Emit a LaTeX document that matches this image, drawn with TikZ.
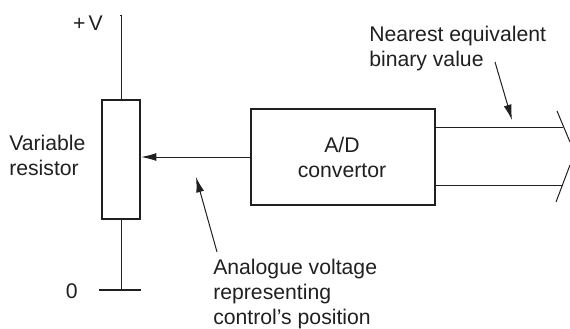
\documentclass[tikz,border=0pt]{standalone}
\usepackage{fontspec}
\setmainfont{Liberation Sans}
\usetikzlibrary{arrows.meta,calc}
\newcommand{\THINPT}{0.75pt}
\newcommand{\THICKPT}{1.7pt}
\definecolor{myink}{rgb}{0.13,0.12,0.12}
\tikzset{
	wire/.style={-,color=myink,line width=\THINPT},
	pointer/.style={-{Latex[length=11.5pt,width=6pt]},color=myink,line width=\THINPT},
	blockbox/.style={draw=myink,line width=\THICKPT,fill=white,inner sep=0pt,minimum width=#1},
	textlabel/.style={text=myink,font=\fontsize{15.9pt}{18.75pt}\selectfont,align=left,inner sep=0pt},
}
\begin{document}
\begin{tikzpicture}[x=0.75pt,y=-0.75pt]
	\useasboundingbox (0,0) rectangle (570,328);
	
		%%
		\coordinate (vtop) at (120,16);
		\coordinate (gnd) at (120,290);
		\coordinate (gndl) at (99,290);
		\coordinate (gndr) at (141,290);
		
		\coordinate (out1) at (563,127);
		\coordinate (out2) at (563,185);
		\coordinate (cut1a) at (557,111);
		\coordinate (cut1b) at (570,142);
		\coordinate (cut2a) at (556,202);
		\coordinate (cut2b) at (570,165);
		
		\coordinate (bintail) at (495,62);
		\coordinate (binhead) at (512,120);
		\coordinate (antail) at (217,252);
		\coordinate (anhead) at (196,177);
		
		\node[blockbox=38*0.75pt,minimum height=119*0.75pt] (res) at (121,159.5) {};
		\node[blockbox=184*0.75pt,minimum height=96*0.75pt] (adc) at (343,157) {};
		\node[textlabel,align=center] (adctext) at (342,157) {A/D\\convertor};
		
		%%
		\draw[wire] (vtop) -- (res.north |- vtop) -- (res.north);
		\draw[wire] (res.south) -- (res.south |- gnd);
		\draw[color=myink,line width=\THICKPT] (gndl) -- (gndr);
		
		\draw[pointer] (adc.west) -- (res.east |- adc.west);
		
		\draw[wire] (adc.east |- out1) -- (out1);
		\draw[wire] (adc.east |- out2) -- (out2);
		\draw[wire] (cut1a) -- (cut1b);
		\draw[wire] (cut2a) -- (cut2b);
		
		\draw[pointer] (bintail) -- (binhead);
		\draw[pointer] (antail) -- (anhead);
		
		%%
		\node[textlabel,anchor=east] (plusv) at (103,23) {+\hspace{0.15em}V};
		\node[textlabel,anchor=east] (zero) at (78,291) {0};
		\node[textlabel,anchor=north west] (varres) at (9,135) {Variable\\resistor};
		\node[textlabel,anchor=north west] (binval) at (369,26) {Nearest equivalent\\binary value};
		\node[textlabel,anchor=north west] (anval) at (213,259) {Analogue voltage\\representing\\control's position};
		
	\end{tikzpicture}
\end{document}
